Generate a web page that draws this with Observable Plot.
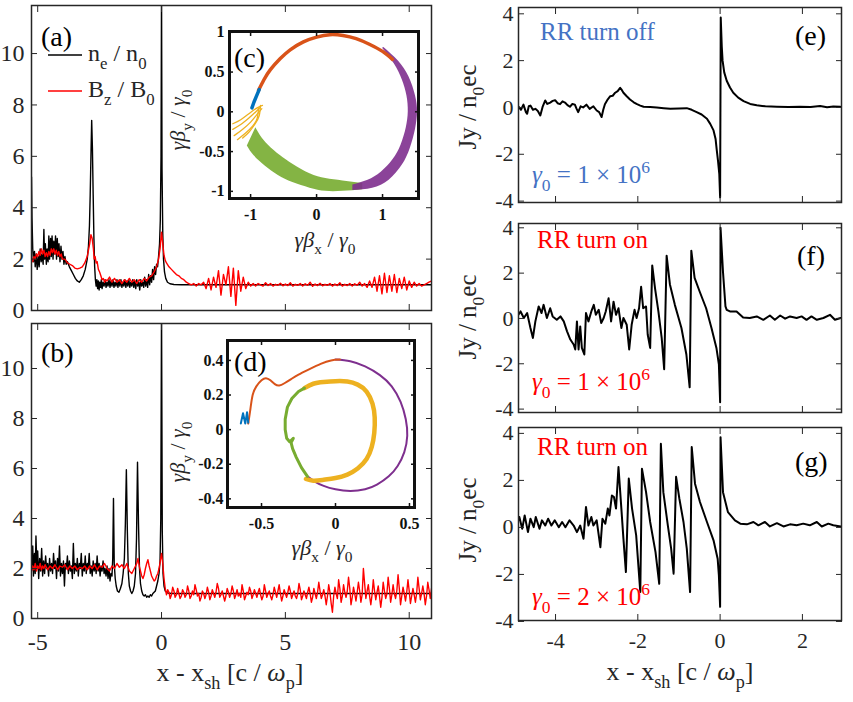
<!DOCTYPE html>
<html><head><meta charset="utf-8">
<script src="https://cdn.jsdelivr.net/npm/d3@7"></script>
<script src="https://cdn.jsdelivr.net/npm/@observablehq/plot@0.6"></script>
<style>
body{margin:0;background:#fff;}
#page{position:relative;width:853px;height:702px;overflow:hidden;background:#fff;font-family:'Liberation Serif','Times New Roman',serif;}
.panel{position:absolute;}
.panel svg, .panel svg text{font-family:'Liberation Serif','Times New Roman',serif !important;}
#overlay{position:absolute;left:0;top:0;pointer-events:none;}
#overlay text{font-family:'Liberation Serif','Times New Roman',serif;}
</style></head><body><div id="page"></div>
<script>
// ---------------- DATA ----------------
// panel (a): n_e/n_0 (black) and B_z/B_0 (red) vs x - x_sh
const ne_a = [[-5.25,5.2],[-5.23,3.6],[-5.2,2.4],[-5.17,1.9],[-5.13,2.3],[-5.1,1.7],[-5.06,2.2],[-5.02,1.6],[-4.98,2.1],[-4.94,1.7],[-4.9,2.4],[-4.86,1.9],[-4.82,2.2],[-4.78,1.8],[-4.75,3.15],[-4.72,2.0],[-4.69,2.6],[-4.65,1.8],[-4.62,2.4],[-4.58,1.9],[-4.55,2.9],[-4.52,2.0],[-4.48,2.8],[-4.45,2.1],[-4.42,2.9],[-4.38,2.0],[-4.35,2.7],[-4.31,2.2],[-4.28,2.9],[-4.24,2.0],[-4.21,2.8],[-4.17,2.1],[-4.14,2.6],[-4.1,1.9],[-4.06,2.5],[-4.02,2.0],[-3.98,2.3],[-3.94,1.8],[-3.9,2.1],[-3.85,1.8],[-3.8,1.9],[-3.72,1.7],[-3.64,1.55],[-3.56,1.4],[-3.48,1.25],[-3.4,1.15],[-3.32,1.1],[-3.24,1.2],[-3.16,1.35],[-3.08,1.6],[-3.0,2.0],[-2.95,2.5],[-2.91,3.3],[-2.88,4.5],[-2.85,6.0],[-2.82,7.4],[-2.79,6.3],[-2.76,4.5],[-2.73,2.8],[-2.7,1.7],[-2.67,1.2],[-2.64,0.95],[-2.61,1.2],[-2.58,0.85],[-2.55,1.15],[-2.52,0.8],[-2.49,1.1],[-2.46,0.9],[-2.43,1.2],[-2.4,0.85],[-2.36,1.1],[-2.32,0.95],[-2.28,1.2],[-2.24,0.9],[-2.2,1.1],[-2.16,0.95],[-2.12,1.2],[-2.08,0.9],[-2.04,1.15],[-2.0,0.95],[-1.96,1.2],[-1.92,0.9],[-1.88,1.1],[-1.84,0.95],[-1.8,1.2],[-1.76,0.9],[-1.72,1.15],[-1.68,0.95],[-1.64,1.2],[-1.6,0.9],[-1.56,1.1],[-1.52,0.95],[-1.48,1.2],[-1.44,0.9],[-1.4,1.15],[-1.36,0.95],[-1.32,1.2],[-1.28,0.9],[-1.24,1.1],[-1.2,0.95],[-1.16,1.2],[-1.12,0.9],[-1.08,1.15],[-1.04,0.85],[-1.0,1.2],[-0.96,0.95],[-0.92,1.1],[-0.88,0.8],[-0.84,1.2],[-0.8,0.95],[-0.76,1.1],[-0.72,0.9],[-0.68,1.3],[-0.64,0.95],[-0.6,1.2],[-0.56,0.9],[-0.52,1.4],[-0.48,1.0],[-0.44,1.35],[-0.4,1.1],[-0.36,1.6],[-0.32,1.2],[-0.28,1.7],[-0.24,1.4],[-0.2,1.8],[-0.16,1.7],[-0.12,2.1],[-0.08,2.6],[-0.05,3.5],[-0.02,6],[0,12.5],[0.02,5.5],[0.05,3.0],[0.08,2.0],[0.12,1.5],[0.17,1.25],[0.24,1.1],[0.34,1.04],[0.5,1.01],[0.8,1.0],[10.9,1.0]];
const Bz_a = [[-5.25,2.05],[-5.2,1.9],[-5.15,2.1],[-5.1,2.0],[-5.05,2.2],[-5.0,2.1],[-4.95,2.3],[-4.9,2.15],[-4.85,2.4],[-4.8,2.2],[-4.75,2.35],[-4.7,2.1],[-4.65,2.25],[-4.6,2.1],[-4.55,2.3],[-4.5,2.15],[-4.45,2.4],[-4.4,2.25],[-4.35,2.4],[-4.3,2.2],[-4.25,2.35],[-4.2,2.15],[-4.15,2.3],[-4.1,2.1],[-4.05,2.2],[-4.0,2.0],[-3.9,2.0],[-3.8,1.85],[-3.7,1.8],[-3.6,1.75],[-3.5,1.65],[-3.4,1.62],[-3.3,1.65],[-3.2,1.7],[-3.1,1.85],[-3.0,2.1],[-2.95,2.35],[-2.9,2.6],[-2.85,2.95],[-2.8,2.8],[-2.75,2.4],[-2.72,2.0],[-2.68,2.1],[-2.64,1.85],[-2.6,1.9],[-2.55,1.6],[-2.5,1.5],[-2.45,1.35],[-2.4,1.2],[-2.35,1.25],[-2.3,1.1],[-2.25,1.2],[-2.2,1.15],[-2.1,1.3],[-2.0,1.1],[-1.9,1.25],[-1.8,1.1],[-1.7,1.2],[-1.6,1.05],[-1.5,1.2],[-1.4,1.1],[-1.3,1.25],[-1.2,1.1],[-1.1,1.2],[-1.0,1.05],[-0.9,1.2],[-0.8,1.1],[-0.7,1.25],[-0.6,1.15],[-0.5,1.3],[-0.4,1.35],[-0.3,1.5],[-0.2,1.7],[-0.12,2.0],[-0.06,2.4],[0,3.05],[0.05,2.6],[0.1,2.15],[0.15,1.95],[0.2,1.85],[0.3,1.7],[0.4,1.6],[0.5,1.5],[0.6,1.4],[0.7,1.35],[0.8,1.25],[0.9,1.2],[1.0,1.1],[1.1,1.05],[1.2,1.0],[1.3,1.05],[1.4,0.95],[1.5,1.05],[1.6,1.0],[1.7,1.1],[1.8,0.85],[1.9,1.25],[2.0,0.8],[2.1,1.3],[2.2,0.9],[2.3,1.55],[2.4,0.6],[2.5,1.4],[2.6,1.0],[2.7,1.7],[2.8,0.55],[2.9,1.65],[3.0,0.2],[3.1,1.55],[3.2,0.75],[3.3,1.3],[3.4,0.85],[3.5,1.1],[3.6,0.95],[3.7,1.05],[3.8,0.95],[3.9,1.05],[4.0,1.0],[4.1,0.95],[4.2,1.08],[4.3,0.97],[4.4,1.05],[4.5,0.95],[4.6,1.02],[4.7,0.98],[4.8,1.06],[4.9,0.96],[5.0,1.03],[5.1,0.97],[5.2,1.08],[5.3,0.95],[5.4,1.02],[5.5,0.98],[5.6,1.05],[5.7,0.95],[5.8,1.04],[5.9,0.98],[6.0,1.1],[6.1,0.94],[6.2,1.03],[6.3,0.97],[6.4,1.06],[6.5,0.96],[6.6,1.02],[6.7,0.98],[6.8,1.05],[6.9,0.95],[7.0,1.03],[7.1,0.97],[7.2,1.08],[7.3,0.95],[7.4,1.02],[7.5,0.97],[7.6,1.05],[7.7,0.95],[7.8,1.04],[7.9,0.98],[8.0,1.1],[8.1,0.95],[8.2,1.05],[8.3,0.9],[8.4,1.15],[8.5,0.9],[8.6,1.3],[8.7,0.75],[8.8,1.35],[8.9,0.65],[9.0,1.45],[9.1,0.7],[9.2,1.35],[9.3,0.75],[9.4,1.4],[9.5,0.7],[9.6,1.25],[9.7,0.85],[9.8,1.3],[9.9,0.8],[10.0,1.15],[10.1,0.9],[10.2,1.1],[10.3,0.95],[10.4,1.05],[10.5,0.95],[10.6,1.0],[10.7,1.05],[10.8,1.1],[10.9,1.15]];

// panel (b)
const ne_b = [[-5.25,1.9],[-5.2,2.9],[-5.17,1.7],[-5.13,2.6],[-5.1,1.8],[-5.07,3.3],[-5.03,2.0],[-5.0,2.7],[-4.96,1.6],[-4.92,2.4],[-4.88,1.9],[-4.84,2.8],[-4.8,1.7],[-4.76,2.3],[-4.72,1.8],[-4.68,2.5],[-4.64,2.0],[-4.6,2.2],[-4.56,1.7],[-4.52,2.4],[-4.48,1.9],[-4.44,2.2],[-4.4,1.8],[-4.36,2.6],[-4.32,2.0],[-4.28,2.3],[-4.24,1.6],[-4.2,2.4],[-4.16,1.9],[-4.12,2.9],[-4.08,1.7],[-4.04,2.2],[-4.0,1.8],[-3.96,2.3],[-3.92,1.3],[-3.88,2.2],[-3.84,2.0],[-3.8,2.5],[-3.76,1.8],[-3.72,2.3],[-3.68,1.9],[-3.64,2.1],[-3.6,1.6],[-3.56,3.0],[-3.52,1.8],[-3.48,2.2],[-3.44,1.9],[-3.4,2.4],[-3.36,1.7],[-3.32,2.2],[-3.28,2.0],[-3.24,2.6],[-3.2,1.7],[-3.16,2.2],[-3.12,1.9],[-3.08,2.5],[-3.04,1.8],[-3.0,2.2],[-2.96,2.0],[-2.92,2.6],[-2.88,1.8],[-2.84,2.1],[-2.8,1.7],[-2.76,2.3],[-2.72,1.9],[-2.68,2.2],[-2.64,1.8],[-2.6,2.5],[-2.56,1.9],[-2.52,2.2],[-2.48,1.7],[-2.44,2.1],[-2.4,1.9],[-2.36,2.3],[-2.32,1.8],[-2.28,2.0],[-2.24,1.7],[-2.2,2.1],[-2.16,1.6],[-2.12,2.0],[-2.08,1.5],[-2.04,1.8],[-2.0,1.7],[-1.97,2.4],[-1.94,4.8],[-1.91,2.2],[-1.87,1.6],[-1.83,1.3],[-1.78,1.1],[-1.72,1.05],[-1.66,1.2],[-1.6,1.4],[-1.55,1.8],[-1.5,2.4],[-1.46,3.8],[-1.42,5.95],[-1.38,3.5],[-1.34,1.8],[-1.3,1.3],[-1.25,1.1],[-1.2,1.0],[-1.15,1.1],[-1.1,1.3],[-1.05,1.8],[-1.01,3.2],[-0.97,6.25],[-0.93,3.8],[-0.89,2.0],[-0.85,1.4],[-0.8,1.1],[-0.75,0.95],[-0.7,0.9],[-0.65,0.95],[-0.6,0.85],[-0.55,0.9],[-0.5,0.85],[-0.45,0.95],[-0.4,0.9],[-0.35,1.0],[-0.3,1.05],[-0.25,1.1],[-0.2,1.3],[-0.15,1.5],[-0.1,1.8],[-0.06,2.3],[-0.03,4],[0,12.5],[0.03,3.5],[0.06,1.8],[0.1,1.3],[0.15,1.1],[0.25,1.02],[0.4,1.0],[10.9,1.0]];
const Bz_b = [[-5.25,1.9],[-5.2,2.1],[-5.15,1.95],[-5.1,2.2],[-5.05,1.9],[-5.0,2.1],[-4.95,2.0],[-4.9,2.2],[-4.85,1.95],[-4.8,2.1],[-4.75,2.0],[-4.7,2.15],[-4.6,1.95],[-4.5,2.1],[-4.4,2.0],[-4.3,2.15],[-4.2,1.95],[-4.1,2.1],[-4.0,2.05],[-3.9,2.15],[-3.8,1.95],[-3.7,2.1],[-3.6,2.0],[-3.5,2.1],[-3.4,1.95],[-3.3,2.05],[-3.2,2.0],[-3.1,2.1],[-3.0,1.95],[-2.9,2.1],[-2.8,2.0],[-2.7,2.15],[-2.6,1.95],[-2.5,2.1],[-2.4,2.05],[-2.3,2.2],[-2.2,2.0],[-2.1,1.9],[-2.0,2.1],[-1.9,2.0],[-1.8,2.2],[-1.7,2.05],[-1.6,2.15],[-1.5,2.0],[-1.4,2.2],[-1.3,1.9],[-1.2,1.8],[-1.1,2.0],[-1.0,2.2],[-0.95,2.4],[-0.9,2.1],[-0.85,1.9],[-0.8,1.7],[-0.75,1.6],[-0.7,1.75],[-0.65,2.0],[-0.6,2.2],[-0.55,2.35],[-0.5,2.1],[-0.45,1.9],[-0.4,1.7],[-0.35,1.6],[-0.3,1.5],[-0.25,1.55],[-0.2,1.7],[-0.15,1.8],[-0.1,2.0],[-0.05,2.3],[0,2.6],[0.05,2.2],[0.1,1.6],[0.15,1.2],
[0.2,0.95],[0.25,1.15],[0.3,1.05],[0.35,0.8],[0.4,0.95],[0.45,1.25],[0.5,1.1],[0.55,0.85],[0.6,0.95],[0.65,1.2],[0.7,1.0],[0.75,0.8],[0.8,0.9],[0.85,1.15],[0.9,1.05],[0.95,0.85],[1.0,0.95],[1.05,1.3],[1.1,1.1],[1.15,0.8],[1.2,0.9],[1.25,1.1],[1.3,0.95],[1.35,1.35],[1.4,1.15],[1.45,0.9],[1.5,1.0],[1.55,0.7],[1.6,0.85],[1.65,1.1],[1.7,1.0],[1.75,0.8],[1.8,0.95],[1.85,1.25],[1.9,1.05],[1.95,0.75],[2.0,0.9],[2.05,1.15],[2.1,1.0],[2.15,0.85],[2.2,1.05],[2.25,1.4],[2.3,1.2],[2.35,0.85],[2.4,0.95],[2.45,1.1],[2.5,0.9],[2.55,0.7],[2.6,0.9],[2.65,1.2],[2.7,1.05],[2.75,0.85],[2.8,1.0],[2.85,1.3],[2.9,1.1],[2.95,0.8],[3.0,0.95],[3.05,1.15],[3.1,0.9],[3.15,1.0],[3.2,0.85],[3.25,1.35],[3.3,1.1],[3.35,0.75],[3.4,0.9],[3.45,1.05],[3.5,0.95],[3.55,1.25],[3.6,1.1],[3.65,0.8],[3.7,0.95],[3.75,1.15],[3.8,1.0],[3.85,0.85],[3.9,1.05],[3.95,1.2],[4.0,0.95],[4.05,0.75],[4.1,0.9],[4.15,1.35],[4.2,1.1],[4.25,0.85],[4.3,1.0],[4.35,1.1],[4.4,0.9],[4.45,0.75],[4.5,0.95],[4.55,1.25],[4.6,1.05],[4.65,0.85],[4.7,1.1],[4.75,1.35],[4.8,1.0],[4.85,0.7],[4.9,0.9],[4.95,1.15],[5.0,1.0],[5.05,0.85],[5.1,1.05],[5.15,1.3],[5.2,1.1],[5.25,0.8],[5.3,0.95],[5.35,1.1],[5.4,0.9],[5.45,0.8],[5.5,1.0],[5.55,1.4],[5.6,1.15],[5.65,0.75],[5.7,0.9],[5.75,1.1],[5.8,0.95],[5.85,0.8],[5.9,1.05],[5.95,1.25],[6.0,1.0],[6.05,0.65],[6.1,0.85],[6.15,1.2],[6.2,1.0],[6.25,0.8],[6.3,1.05],[6.35,1.45],[6.4,1.1],[6.45,0.8],[6.5,0.95],[6.55,1.15],[6.6,0.9],[6.65,0.55],[6.7,0.9],[6.75,1.35],[6.8,1.05],[6.85,0.6],[6.9,0.25],[6.95,0.9],[7.0,1.25],[7.05,1.0],[7.1,0.8],[7.15,1.55],[7.2,1.2],[7.25,0.65],[7.3,0.9],[7.35,1.35],[7.4,1.05],[7.45,0.85],[7.5,1.1],[7.55,1.65],[7.6,1.2],[7.65,0.55],[7.7,0.85],[7.75,1.25],[7.8,1.0],[7.85,0.7],[7.9,1.05],[7.95,1.45],[8.0,1.1],[8.05,0.65],[8.1,0.95],[8.15,2.0],[8.2,1.4],[8.25,0.8],[8.3,1.1],[8.35,1.35],[8.4,0.9],[8.45,0.55],[8.5,0.95],[8.55,1.55],[8.6,1.1],[8.65,0.75],[8.7,1.05],[8.75,1.3],[8.8,0.9],[8.85,0.45],[8.9,0.85],[8.95,1.45],[9.0,1.1],[9.05,0.8],[9.1,1.0],[9.15,1.65],[9.2,1.2],[9.25,0.65],[9.3,0.95],[9.35,1.35],[9.4,1.0],[9.45,0.8],[9.5,1.1],[9.55,1.75],[9.6,1.2],[9.65,0.55],[9.7,0.9],[9.75,1.25],[9.8,1.0],[9.85,0.7],[9.9,1.05],[9.95,1.55],[10.0,1.1],[10.05,0.6],[10.1,0.9],[10.15,1.2],[10.2,0.95],[10.25,0.65],[10.3,1.0],[10.35,1.65],[10.4,1.2],[10.45,0.75],[10.5,1.0],[10.55,1.3],[10.6,1.0],[10.65,0.55],[10.7,0.9],[10.75,1.45],[10.8,1.15],[10.85,0.8],[10.9,1.2]];

// inset (c): momentum trajectory gamma*beta_y/gamma0 vs gamma*beta_x/gamma0
const c_blue = [[-0.98,0.05],[-0.95,0.12],[-0.91,0.2],[-0.87,0.28]];
const c_orange = [[-0.88,0.27],[-0.8,0.4],[-0.7,0.53],[-0.55,0.67],[-0.4,0.78],[-0.2,0.88],[0,0.94],[0.2,0.97],[0.4,0.96],[0.6,0.92],[0.8,0.85],[1.0,0.76],[1.15,0.66]];
// band rows: [x_inner, y_inner, x_outer, y_outer]
const c_purple = [[1.0,0.8,1.02,0.81],[1.18,0.6,1.24,0.64],[1.3,0.4,1.4,0.44],[1.37,0.2,1.5,0.2],[1.39,0,1.53,0],[1.36,-0.2,1.5,-0.22],[1.28,-0.42,1.42,-0.46],[1.16,-0.6,1.3,-0.67],[0.98,-0.76,1.1,-0.86],[0.78,-0.86,0.85,-0.96],[0.55,-0.92,0.55,-0.99]];
const c_green = [[0.7,-0.9,0.7,-0.98],[0.4,-0.87,0.4,-1.0],[0.14,-0.84,0.14,-1.0],[-0.1,-0.78,-0.1,-0.96],[-0.36,-0.66,-0.36,-0.89],[-0.55,-0.55,-0.58,-0.8],[-0.73,-0.42,-0.78,-0.68],[-0.85,-0.3,-0.95,-0.55],[-0.92,-0.2,-1.05,-0.43]];
const c_yellow = [
  [[-1.27,-0.15],[-1.15,-0.1],[-1.02,-0.02],[-0.9,0.05],[-0.82,0.08]],
  [[-1.27,-0.22],[-1.15,-0.16],[-1.03,-0.08],[-0.92,0.0],[-0.85,0.06]],
  [[-1.25,-0.3],[-1.12,-0.22],[-1.0,-0.13],[-0.9,-0.03],[-0.83,0.04]],
  [[-1.2,-0.35],[-1.08,-0.27],[-0.97,-0.18],[-0.9,-0.08],[-0.88,0.05]],
  [[-1.12,-0.33],[-1.02,-0.25],[-0.93,-0.15],[-0.87,-0.05],[-0.85,0.08]]
];

// inset (d)
const d_blue = [[-0.64,0.035],[-0.625,0.095],[-0.61,0.035],[-0.598,0.1],[-0.59,0.04]];
const d_orange = [[-0.59,0.035],[-0.575,0.12],[-0.56,0.2],[-0.535,0.25],[-0.5,0.285],[-0.47,0.297],[-0.44,0.285],[-0.41,0.263],[-0.38,0.255],[-0.345,0.268],[-0.3,0.292],[-0.25,0.318],[-0.18,0.348],[-0.1,0.38],[-0.03,0.4],[0.03,0.405]];
const d_purple = [[0.0,0.405],[0.1,0.395],[0.2,0.365],[0.3,0.315],[0.38,0.25],[0.44,0.16],[0.475,0.06],[0.485,-0.035],[0.465,-0.13],[0.42,-0.21],[0.36,-0.27],[0.28,-0.318],[0.2,-0.345],[0.1,-0.355],[0.0,-0.345],[-0.08,-0.325],[-0.14,-0.3],[-0.19,-0.27]];
const d_green = [[-0.19,-0.27],[-0.23,-0.22],[-0.265,-0.16],[-0.29,-0.11],[-0.3,-0.075],[-0.285,-0.05],[-0.31,-0.07],[-0.33,-0.05],[-0.34,0.0],[-0.34,0.06],[-0.325,0.13],[-0.295,0.18],[-0.25,0.22],[-0.21,0.24]];
const d_yellow = [[-0.21,0.24],[-0.15,0.265],[-0.08,0.275],[0,0.28],[0.08,0.278],[0.15,0.26],[0.21,0.22],[0.25,0.15],[0.265,0.07],[0.262,-0.02],[0.245,-0.1],[0.21,-0.17],[0.15,-0.225],[0.08,-0.26],[0.0,-0.28],[-0.08,-0.29],[-0.15,-0.295],[-0.2,-0.285]];

// panels (e), (f), (g): Jy / n0 e c
const Jy_e = [[-4.9,0.04],[-4.84,-0.1],[-4.78,0.12],[-4.72,-0.2],[-4.69,-0.27],[-4.65,0.05],[-4.61,0.08],[-4.55,-0.1],[-4.49,-0.06],[-4.43,-0.15],[-4.37,-0.34],[-4.31,0.05],[-4.25,0.3],[-4.2,0.15],[-4.13,0.21],[-4.07,0.28],[-4.01,0.31],[-3.95,0.18],[-3.89,0.14],[-3.83,0.26],[-3.77,0.21],[-3.71,0.1],[-3.65,0.03],[-3.59,0.15],[-3.53,0.12],[-3.49,-0.05],[-3.45,-0.2],[-3.39,0.05],[-3.33,0.0],[-3.25,0.12],[-3.17,-0.06],[-3.08,0.05],[-3.0,-0.13],[-2.94,-0.2],[-2.88,-0.41],[-2.84,-0.1],[-2.8,0.14],[-2.73,0.35],[-2.67,0.48],[-2.61,0.5],[-2.55,0.63],[-2.49,0.7],[-2.43,0.84],[-2.39,0.75],[-2.35,0.63],[-2.27,0.48],[-2.19,0.34],[-2.1,0.22],[-2.02,0.14],[-1.94,0.08],[-1.86,0.03],[-1.7,0.02],[-1.54,0.0],[-1.37,-0.03],[-1.21,-0.06],[-1.0,-0.04],[-0.81,-0.03],[-0.69,-0.1],[-0.57,-0.2],[-0.45,-0.3],[-0.32,-0.48],[-0.24,-0.7],[-0.16,-0.98],[-0.11,-1.35],[-0.08,-1.84],[-0.05,-2.3],[-0.02,-2.84],[0,-3.84],[0.015,3.84],[0.04,2.6],[0.06,2.0],[0.1,1.5],[0.16,1.14],[0.24,0.85],[0.32,0.63],[0.44,0.42],[0.57,0.27],[0.73,0.15],[0.89,0.09],[1.1,0.05],[1.38,0.03],[1.66,0.02],[1.94,0.03],[2.2,0.02],[2.43,0.06],[2.6,0.01],[2.75,0.04],[2.92,0.03]];
const Jy_f = [[-4.93,0.09],[-4.85,0.31],[-4.77,0.02],[-4.69,0.24],[-4.61,-0.42],[-4.55,-0.86],[-4.49,-0.13],[-4.41,0.53],[-4.34,0.24],[-4.29,0.6],[-4.21,0.02],[-4.13,0.45],[-4.07,0.09],[-3.97,-0.06],[-3.88,0.09],[-3.8,-0.13],[-3.72,-0.57],[-3.64,-0.93],[-3.56,-1.15],[-3.52,-1.37],[-3.48,-0.13],[-3.44,-1.37],[-3.4,-0.35],[-3.36,-1.3],[-3.3,-1.59],[-3.26,0.24],[-3.2,-0.13],[-3.13,0.31],[-3.07,0.6],[-3.02,0.16],[-2.95,0.38],[-2.89,-0.2],[-2.83,0.02],[-2.78,0.31],[-2.71,0.89],[-2.65,-0.13],[-2.59,0.74],[-2.53,0.16],[-2.47,0.45],[-2.4,-0.42],[-2.35,0.02],[-2.27,-0.28],[-2.21,-1.37],[-2.15,-0.28],[-2.08,0.38],[-2.03,0.02],[-1.97,0.45],[-1.92,1.4],[-1.87,0.45],[-1.8,0.53],[-1.76,-0.71],[-1.7,-1.3],[-1.65,2.34],[-1.58,1.31],[-1.5,0.31],[-1.42,-0.86],[-1.36,-2.24],[-1.3,2.77],[-1.22,1.5],[-1.1,0.6],[-0.94,-0.42],[-0.82,-1.59],[-0.74,-3.04],[-0.7,2.99],[-0.62,1.79],[-0.5,1.2],[-0.34,0.45],[-0.21,-0.42],[-0.09,-1.3],[-0.03,-2.03],[0,-3.7],[0.01,4.0],[0.07,2.05],[0.13,0.53],[0.16,0.38],[0.24,0.31],[0.4,0.31],[0.56,0.04],[0.72,0.02],[0.89,0.09],[1.05,-0.06],[1.21,0.13],[1.33,-0.06],[1.46,0.13],[1.58,-0.01],[1.7,0.09],[1.86,0.02],[1.98,0.09],[2.1,-0.06],[2.22,0.09],[2.35,-0.06],[2.51,0.02],[2.67,0.16],[2.79,-0.06],[2.93,0.02]];
const Jy_g = [[-4.93,0.16],[-4.88,0.44],[-4.81,-0.06],[-4.75,0.51],[-4.67,-0.2],[-4.61,0.37],[-4.53,0.01],[-4.48,0.44],[-4.39,-0.06],[-4.33,0.3],[-4.25,0.08],[-4.18,0.37],[-4.1,0.08],[-4.02,0.3],[-3.92,0.01],[-3.84,0.23],[-3.76,0.01],[-3.66,0.3],[-3.56,0.08],[-3.48,-0.2],[-3.4,0.08],[-3.32,-0.48],[-3.26,0.87],[-3.2,0.08],[-3.13,0.44],[-3.08,0.08],[-3.0,0.3],[-2.91,-0.84],[-2.86,0.37],[-2.79,0.16],[-2.73,0.8],[-2.69,0.51],[-2.63,1.36],[-2.58,1.29],[-2.53,0.8],[-2.47,2.57],[-2.4,0.8],[-2.35,-0.48],[-2.29,-1.9],[-2.22,2.08],[-2.14,0.8],[-2.04,-0.34],[-1.94,-2.75],[-1.9,2.5],[-1.8,1.5],[-1.7,0.23],[-1.57,-1.05],[-1.48,-2.4],[-1.44,3.56],[-1.38,1.5],[-1.27,0.08],[-1.19,-0.9],[-1.13,-1.97],[-1.07,2.15],[-0.99,1.22],[-0.89,0.23],[-0.81,-0.9],[-0.73,-2.75],[-0.69,3.42],[-0.61,1.86],[-0.49,1.08],[-0.32,0.23],[-0.16,-0.55],[-0.06,-1.33],[-0.03,-2.04],[0,-3.38],[0.01,3.84],[0.07,1.5],[0.19,0.65],[0.36,0.3],[0.49,0.16],[0.65,0.13],[0.81,0.23],[0.93,0.09],[1.09,0.23],[1.21,0.04],[1.38,0.18],[1.54,0.04],[1.7,0.13],[1.86,0.09],[2.02,0.16],[2.18,0.09],[2.35,0.23],[2.47,0.04],[2.63,0.16],[2.75,0.09],[2.93,0.04]];

// axis ticks
const ticksX_ab = [-5, 0, 5, 10];
const ticksY_ab = [0, 2, 4, 6, 8, 10];
const ticksX_c = [-1, 0, 1];
const ticksY_c = [-1, -0.5, 0, 0.5, 1];
const ticksX_d = [-0.5, 0, 0.5];
const ticksY_d = [-0.4, -0.2, 0, 0.2, 0.4];
const ticksX_efg = [-4, -2, 0, 2];
const ticksY_efg = [-4, -2, 0, 2, 4];

// ---------------- DRAWING ----------------
const FONT = "'Liberation Serif','Times New Roman',serif";
const INK = "#262626";
const MC = {blue:"#0072BD", orange:"#D95319", yellow:"#EDB120", purple:"#7E2F8E", green:"#77AC30"};
const page = document.getElementById("page");

function boxAxes({xticks, yticks, xlab=false, ylab=true, fs=22, tl=6, sw=1, color=INK, xpad=10, ypad=7, weight="normal"}) {
  const fmt = d => String(d);
  const m = [
    Plot.axisX({anchor:"bottom", ticks:xticks, tickSize:tl, dy:-tl, fill:"none", stroke:color, strokeWidth:sw, label:null}),
    Plot.axisX({anchor:"top", ticks:xticks, tickSize:tl, dy:tl, fill:"none", stroke:color, strokeWidth:sw, label:null}),
    Plot.axisY({anchor:"left", ticks:yticks, tickSize:tl, dx:tl, fill:"none", stroke:color, strokeWidth:sw, label:null}),
    Plot.axisY({anchor:"right", ticks:yticks, tickSize:tl, dx:-tl, fill:"none", stroke:color, strokeWidth:sw, label:null})
  ];
  if (xlab) m.push(Plot.axisX({anchor:"bottom", ticks:xticks, tickSize:0, tickPadding:xpad, tickFormat:fmt, fill:color, stroke:"none", fontSize:fs, fontWeight:weight, label:null}));
  if (ylab) m.push(Plot.axisY({anchor:"left", ticks:yticks, tickSize:0, tickPadding:ypad, tickFormat:fmt, fill:color, stroke:"none", fontSize:fs, fontWeight:weight, label:null}));
  return m;
}

function panel({left, top, fw, fh, ml, mr, mt, mb, xdom, ydom, marks}) {
  const p = Plot.plot({
    width: ml + fw + mr, height: mt + fh + mb,
    marginLeft: ml, marginRight: mr, marginTop: mt, marginBottom: mb,
    x: {domain: xdom}, y: {domain: ydom},
    style: {fontFamily: FONT, background: "transparent", overflow: "visible", color: INK},
    marks
  });
  p.setAttribute("font-family", FONT);
  const div = document.createElement("div");
  div.className = "panel";
  div.style.left = (left - ml) + "px";
  div.style.top = (top - mt) + "px";
  div.appendChild(p);
  page.appendChild(div);
}

const X = d => d[0], Y = d => d[1];

// (a)
panel({left:31, top:5, fw:400, fh:305, ml:40, mr:10, mt:5, mb:5, xdom:[-5.25, 10.9], ydom:[0, 11.87], marks:[
  Plot.line(ne_a, {x:X, y:Y, stroke:"#000", strokeWidth:1.4, clip:true}),
  Plot.line(Bz_a, {x:X, y:Y, stroke:"#ff0000", strokeWidth:1.4, clip:true}),
  Plot.frame({stroke:INK, strokeWidth:1.5}),
  ...boxAxes({xticks:ticksX_ab, yticks:ticksY_ab, fs:24, ypad:7})
]});
// (b)
panel({left:31, top:323, fw:400, fh:295, ml:40, mr:10, mt:5, mb:84, xdom:[-5.25, 10.9], ydom:[0, 11.8], marks:[
  Plot.line(ne_b, {x:X, y:Y, stroke:"#000", strokeWidth:1.4, clip:true}),
  Plot.line(Bz_b, {x:X, y:Y, stroke:"#ff0000", strokeWidth:1.4, clip:true}),
  Plot.frame({stroke:INK, strokeWidth:1.5}),
  ...boxAxes({xticks:ticksX_ab, yticks:ticksY_ab, xlab:true, fs:24, ypad:7, xpad:14})
]});
// (c) inset
panel({left:229, top:31, fw:189, fh:167, ml:50, mr:5, mt:5, mb:55, xdom:[-1.32, 1.545], ydom:[-1.09, 1.01], marks:[
  Plot.frame({fill:"#fff", stroke:null}),
  Plot.area(c_green, {x1:d=>d[0], y1:d=>d[1], x2:d=>d[2], y2:d=>d[3], fill:MC.green, fillOpacity:0.9, curve:"natural"}),
  Plot.area(c_purple, {x1:d=>d[0], y1:d=>d[1], x2:d=>d[2], y2:d=>d[3], fill:MC.purple, fillOpacity:0.9, curve:"natural"}),
  Plot.line(c_orange, {x:X, y:Y, stroke:MC.orange, strokeWidth:3.5, curve:"natural"}),
  ...c_yellow.map(s => Plot.line(s, {x:X, y:Y, stroke:MC.yellow, strokeWidth:1.3, curve:"natural"})),
  Plot.line(c_blue, {x:X, y:Y, stroke:MC.blue, strokeWidth:3.5}),
  Plot.frame({stroke:"#111", strokeWidth:3}),
  ...boxAxes({xticks:ticksX_c, yticks:ticksY_c, xlab:true, fs:16, tl:4, sw:1.5, color:"#111", weight:"bold", ypad:5, xpad:10})
]});
// (d) inset
panel({left:227, top:340, fw:187, fh:167, ml:50, mr:5, mt:5, mb:55, xdom:[-0.73, 0.534], ydom:[-0.45, 0.515], marks:[
  Plot.frame({fill:"#fff", stroke:null}),
  Plot.line(d_purple, {x:X, y:Y, stroke:MC.purple, strokeWidth:2, curve:"natural"}),
  Plot.line(d_yellow, {x:X, y:Y, stroke:MC.yellow, strokeWidth:4.5, curve:"natural"}),
  Plot.line(d_green, {x:X, y:Y, stroke:MC.green, strokeWidth:3}),
  Plot.line(d_orange, {x:X, y:Y, stroke:MC.orange, strokeWidth:2, curve:"natural"}),
  Plot.line(d_blue, {x:X, y:Y, stroke:MC.blue, strokeWidth:2}),
  Plot.frame({stroke:"#111", strokeWidth:3}),
  ...boxAxes({xticks:ticksX_d, yticks:ticksY_d, xlab:true, fs:16, tl:4, sw:1.5, color:"#111", weight:"bold", ypad:4, xpad:10})
]});
// (e), (f), (g)
const efg = [
  {data:Jy_e, top:7, fh:195, ydom:[-4.06, 4.27], xlab:false, mb:8},
  {data:Jy_f, top:223, fh:189, ydom:[-4.15, 4.19], xlab:false, mb:5},
  {data:Jy_g, top:427, fh:193, ydom:[-3.96, 4.25], xlab:true, mb:82}
];
for (const s of efg) {
  panel({left:518, top:s.top, fw:323, fh:s.fh, ml:75, mr:12, mt:5, mb:s.mb, xdom:[-4.9, 2.95], ydom:s.ydom, marks:[
    Plot.line(s.data, {x:X, y:Y, stroke:"#000", strokeWidth:2, clip:true}),
    Plot.frame({stroke:INK, strokeWidth:1.5}),
    ...boxAxes({xticks:ticksX_efg, yticks:ticksY_efg, xlab:s.xlab, fs:22, ypad:5, xpad:12})
  ]});
}

// ---------------- TEXT OVERLAY ----------------
const ov = d3.create("svg").attr("id","overlay").attr("width",853).attr("height",702);
page.appendChild(ov.node());
function txt(x, y, parts, {size=22, fill=INK, anchor="start", rotate=0, weight=null}={}) {
  const t = ov.append("text").attr("x",x).attr("y",y).attr("font-size",size).attr("fill",fill)
    .attr("text-anchor",anchor).attr("font-family",FONT);
  if (rotate) t.attr("transform",`rotate(${rotate},${x},${y})`);
  if (weight) t.attr("font-weight",weight);
  let shift = 0;
  for (const [s, kind, it] of parts) {
    const sp = t.append("tspan").text(s);
    const target = kind === "sub" ? size*0.32 : kind === "sup" ? -size*0.42 : 0;
    if (target !== shift) sp.attr("dy", target - shift);
    shift = target;
    if (kind) sp.attr("font-size", size*0.7);
    if (it) sp.attr("font-style","italic");
  }
}
// panel letters
txt(41, 46, [["(a)"]], {size:28, fill:"#000"});
txt(41, 362, [["(b)"]], {size:28, fill:"#000"});
txt(234, 67, [["(c)"]], {size:28, fill:"#000"});
txt(234, 371, [["(d)"]], {size:28, fill:"#000"});
txt(795, 45, [["(e)"]], {size:28, fill:"#000"});
txt(797, 265, [["(f)"]], {size:28, fill:"#000"});
txt(795, 471, [["(g)"]], {size:28, fill:"#000"});
// legend (a)
ov.append("line").attr("x1",48).attr("x2",82).attr("y1",55).attr("y2",55).attr("stroke","#000").attr("stroke-width",1.5);
ov.append("line").attr("x1",48).attr("x2",82).attr("y1",91).attr("y2",91).attr("stroke","#ff0000").attr("stroke-width",1.5);
txt(88, 61, [["n"],["e","sub"],[" / n"],["0","sub"]], {size:24});
txt(88, 97, [["B"],["z","sub"],[" / B"],["0","sub"]], {size:24});
// inset labels
txt(185, 120, [["γβ",null,true],["y","sub"],[" / "],["γ",null,true],["0","sub"]], {size:22, anchor:"middle", rotate:-90});
txt(325, 247, [["γβ",null,true],["x","sub"],[" / "],["γ",null,true],["0","sub"]], {size:22, anchor:"middle"});
txt(185, 452, [["γβ",null,true],["y","sub"],[" / "],["γ",null,true],["0","sub"]], {size:22, anchor:"middle", rotate:-90});
txt(322, 555, [["γβ",null,true],["x","sub"],[" / "],["γ",null,true],["0","sub"]], {size:22, anchor:"middle"});
// x labels
txt(230, 681, [["x - x"],["sh","sub"],[" [c / "],["ω",null,true],["p","sub"],["]"]], {size:26, anchor:"middle"});
txt(680, 680, [["x - x"],["sh","sub"],[" [c / "],["ω",null,true],["p","sub"],["]"]], {size:26, anchor:"middle"});
// Jy labels
for (const cy of [107, 317, 520]) txt(476, cy, [["Jy / n"],["0","sub"],["ec"]], {size:25, anchor:"middle", rotate:-90});
// RR annotations
const BLUE = "#4472C4", RED = "#ff0000";
txt(540, 40, [["RR turn off"]], {size:25, fill:BLUE});
txt(532, 183, [["γ",null,true],["0","sub"],[" = 1 × 10"],["6","sup"]], {size:25, fill:BLUE});
txt(537, 248, [["RR turn on"]], {size:25, fill:RED});
txt(532, 390, [["γ",null,true],["0","sub"],[" = 1 × 10"],["6","sup"]], {size:25, fill:RED});
txt(537, 455, [["RR turn on"]], {size:25, fill:RED});
txt(532, 605, [["γ",null,true],["0","sub"],[" = 2 × 10"],["6","sup"]], {size:25, fill:RED});
</script></body></html>
